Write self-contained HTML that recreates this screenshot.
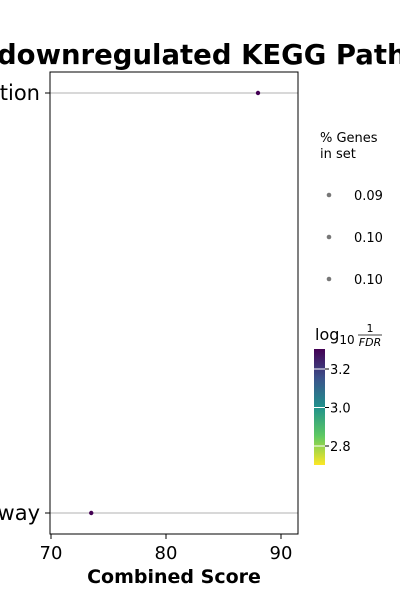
<!DOCTYPE html>
<html><head><meta charset="utf-8"><style>
body{margin:0;background:#fff;width:400px;height:600px;overflow:hidden}
svg{font-family:"DejaVu Sans","Liberation Sans",sans-serif}
</style></head><body>
<svg width="400" height="600" viewBox="0 0 400 600">
<defs>
<linearGradient id="vir" x1="0" y1="1" x2="0" y2="0">
<stop offset="0" stop-color="#fde725"/><stop offset="0.25" stop-color="#5ec962"/>
<stop offset="0.5" stop-color="#21918c"/><stop offset="0.75" stop-color="#3b528b"/>
<stop offset="1" stop-color="#440154"/></linearGradient>
</defs>
<text x="-3" y="64" font-size="27.5" font-weight="bold">downregulated KEGG Pathways</text>
<g id="plot"></g>
<text x="174" y="583" font-size="19" font-weight="bold" text-anchor="middle">Combined Score</text>
<g>
<text x="320" y="142" font-size="13">% Genes</text>
<text x="320" y="158" font-size="13">in set</text>
<circle cx="329" cy="195" r="2.3" fill="#777"/><text x="354" y="200" font-size="13">0.09</text>
<circle cx="329" cy="237" r="2.3" fill="#777"/><text x="354" y="242" font-size="13">0.10</text>
<circle cx="329" cy="279" r="2.3" fill="#777"/><text x="354" y="284" font-size="13">0.10</text>
</g>
<g>
<text x="315" y="340" font-size="16">log<tspan font-size="12" dy="4">10</tspan></text>
<text x="370" y="332" font-size="11" text-anchor="middle">1</text>
<line x1="358" y1="335" x2="382" y2="335" stroke="#000" stroke-width="0.8"/>
<text x="370" y="346" font-size="11" font-style="italic" text-anchor="middle">FDR</text>
<rect x="314" y="349" width="11" height="116" fill="url(#vir)"/>
<g id="cbticks"></g>
</g>
</svg>
<script>
const categories=["Oxidative phosphorylation","Glycolysis pathway"];
const scores=[88,73.5];
const logInvFdr=[3.3,3.3];
const geneFrac=[0.10,0.09];
const xTicks=[70,80,90];
const cbTicks=[3.2,3.0,2.8];
const NS="http://www.w3.org/2000/svg";
const L=50,R=298,T=72,B=534;
const xs=v=>51+(v-70)*11.5;
const ys=i=>93+i*420;
const cbY=v=>369+(3.2-v)*192.5;
function mk(t,a,p){const e=document.createElementNS(NS,t);for(const k in a)e.setAttribute(k,a[k]);p.appendChild(e);return e;}
const g=document.getElementById('plot');
categories.forEach((c,i)=>{
 const gl=mk('line',{x1:L,x2:R,y1:ys(i),y2:ys(i),stroke:'#b0b0b0','stroke-width':1},g);
 
 
 mk('line',{x1:L-5,x2:L,y1:ys(i),y2:ys(i),stroke:'#000'},g);
 const t=mk('text',{x:40,y:ys(i)+7,'font-size':21,'text-anchor':'end'},g);t.textContent=c;
 
 
});
mk('rect',{x:L,y:T,width:R-L,height:B-T,fill:'none',stroke:'#000','stroke-width':1},g);
xTicks.forEach(v=>{
 mk('line',{x1:xs(v),x2:xs(v),y1:B,y2:B+5,stroke:'#000'},g);
 const t=mk('text',{x:xs(v),y:B+25,'font-size':18,'text-anchor':'middle'},g);t.textContent=v;
 
 
});
function vir(v){const f=Math.max(0,Math.min(1,(v-2.7)/0.6));const s=[[253,231,37],[94,201,98],[33,145,140],[59,82,139],[68,1,84]];const p=f*4,i=Math.min(3,Math.floor(p)),r=p-i;return 'rgb('+s[i].map((c,k)=>Math.round(c+(s[i+1][k]-c)*r)).join(',')+')';}
scores.forEach((s,i)=>{
 const c=mk('circle',{cx:xs(s),cy:ys(i),r:2.2,fill:vir(logInvFdr[i])},g);
 
 
});
const cb=document.getElementById('cbticks');
cbTicks.forEach(v=>{
 mk('line',{x1:314,x2:325,y1:cbY(v),y2:cbY(v),stroke:'#fff','stroke-width':1},cb);
 mk('line',{x1:325,x2:329,y1:cbY(v),y2:cbY(v),stroke:'#000'},cb);
 const t=mk('text',{x:330,y:cbY(v)+5,'font-size':13},cb);t.textContent=v.toFixed(1);
 
 
});
</script>
</body></html>
